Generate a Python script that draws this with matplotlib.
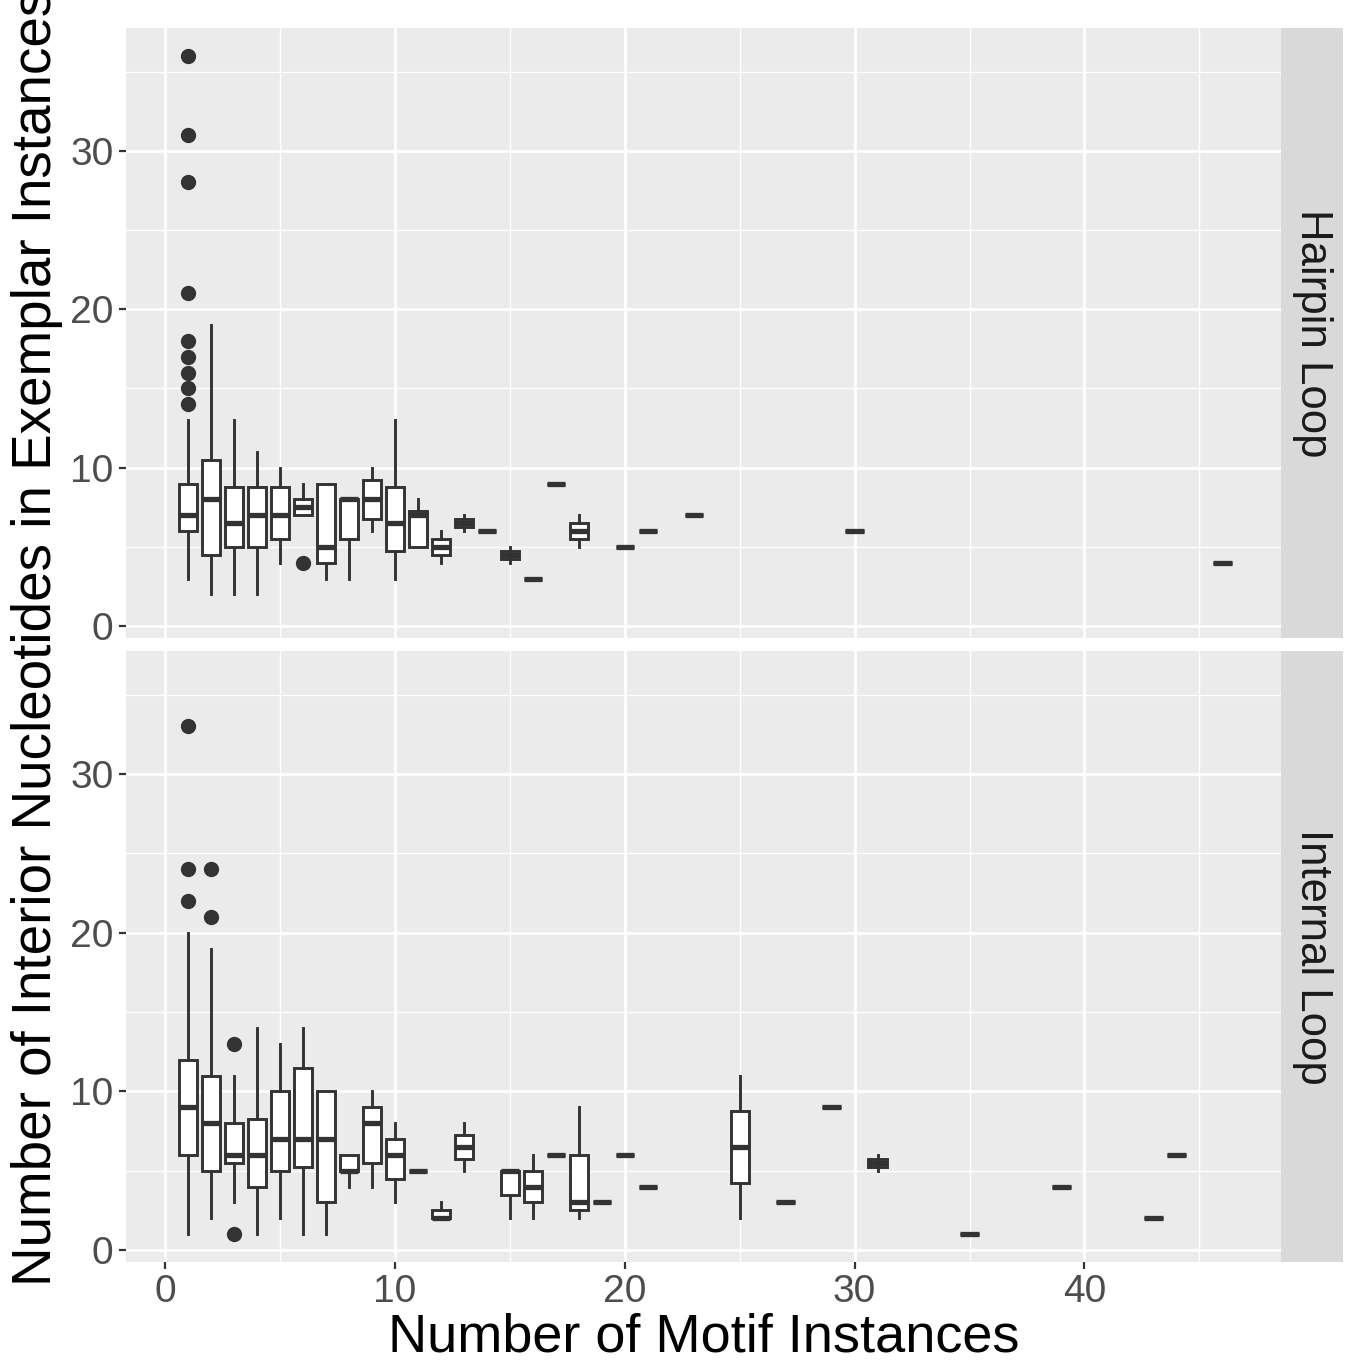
import numpy as np
import matplotlib
matplotlib.use("Agg")
import matplotlib.pyplot as plt

# Hairpin Loop: resumen de cada caja (x, minimo bigote, q1, mediana, q3, maximo bigote)
hp_x = [1, 2, 3, 4, 5, 6, 7, 8, 9, 10, 11, 12, 13, 14, 15, 16, 17, 18, 20, 21, 23, 30, 46]
hp_lo = [3, 2, 2, 2, 4, 7, 3, 3, 6, 3, 5, 4, 6, 6, 4, 3, 9, 5, 5, 6, 7, 6, 4]
hp_q1 = [6, 4.5, 5, 5, 5.5, 7, 4, 5.5, 6.75, 4.75, 5, 4.5, 6.25, 6, 4.25, 3, 9, 5.5, 5, 6, 7, 6, 4]
hp_med = [7, 8, 6.5, 7, 7, 7.5, 5, 8, 8, 6.5, 7, 5, 6.5, 6, 4.5, 3, 9, 6, 5, 6, 7, 6, 4]
hp_q3 = [9, 10.5, 8.75, 8.75, 8.75, 8, 9, 8, 9.25, 8.75, 7.25, 5.5, 6.75, 6, 4.75, 3, 9, 6.5, 5, 6, 7, 6, 4]
hp_hi = [13, 19, 13, 11, 10, 9, 9, 8, 10, 13, 8, 6, 7, 6, 5, 3, 9, 7, 5, 6, 7, 6, 4]
hp_out = {1: [14, 15, 16, 17, 18, 21, 28, 31, 36], 6: [4]}

# Internal Loop
il_x = [1, 2, 3, 4, 5, 6, 7, 8, 9, 10, 11, 12, 13, 15, 16, 17, 18, 19, 20, 21, 25, 27, 29, 31, 35, 39, 43, 44]
il_lo = [1, 2, 3, 1, 2, 1, 1, 4, 4, 3, 5, 2, 5, 2, 2, 6, 2, 3, 6, 4, 2, 3, 9, 5, 1, 4, 2, 6]
il_q1 = [6, 5, 5.5, 4, 5, 5.25, 3, 5, 5.5, 4.5, 5, 2, 5.75, 3.5, 3, 6, 2.5, 3, 6, 4, 4.25, 3, 9, 5.25, 1, 4, 2, 6]
il_med = [9, 8, 6, 6, 7, 7, 7, 5, 8, 6, 5, 2, 6.5, 5, 4, 6, 3, 3, 6, 4, 6.5, 3, 9, 5.5, 1, 4, 2, 6]
il_q3 = [12, 11, 8, 8.25, 10, 11.5, 10, 6, 9, 7, 5, 2.5, 7.25, 5, 5, 6, 6, 3, 6, 4, 8.75, 3, 9, 5.75, 1, 4, 2, 6]
il_hi = [20, 19, 11, 14, 13, 14, 10, 6, 10, 8, 5, 3, 8, 5, 6, 6, 9, 3, 6, 4, 11, 3, 9, 6, 1, 4, 2, 6]
il_out = {1: [22, 24, 33], 2: [21, 24], 3: [1, 13]}

paneles = ["Hairpin Loop", "Internal Loop"]
x_ticks = [0, 10, 20, 30, 40]
y_ticks = [0, 10, 20, 30]

fuente = "Liberation Sans"
plt.rcParams["font.family"] = [fuente, "DejaVu Sans"]

W, H = 1349, 1363
fig = plt.figure(figsize=(W / 100, H / 100), dpi=100)


def stats(xs, lo, q1, med, q3, hi, out):
    res = []
    for i, x in enumerate(xs):
        res.append(dict(med=med[i], q1=q1[i], q3=q3[i], whislo=lo[i], whishi=hi[i],
                        fliers=out.get(x, []), label=""))
    return res


def panel(rect, strip_rect, xs, st, titulo, mostrar_x):
    ax = fig.add_axes(rect)
    ax.set_facecolor("#EBEBEB")
    for s in ax.spines.values():
        s.set_visible(False)
    ax.set_xlim(-1.7, 48.55)
    ax.set_ylim(-0.75, 37.75)
    ax.set_xticks(x_ticks)
    ax.set_yticks(y_ticks)
    ax.set_xticks([5, 15, 25, 35, 45], minor=True)
    ax.set_yticks([5, 15, 25, 35], minor=True)
    ax.grid(which="major", color="white", lw=2.0)
    ax.grid(which="minor", color="white", lw=1.0)
    ax.set_axisbelow(True)
    ax.tick_params(which="minor", length=0)
    ax.tick_params(which="major", length=5, width=1.6, color="#333333",
                   labelsize=28, labelcolor="#4D4D4D", pad=4)
    if not mostrar_x:
        ax.tick_params(axis="x", length=0, labelbottom=False)
    ax.bxp(st, positions=xs, widths=0.8, patch_artist=True, showcaps=False,
           manage_ticks=False,
           boxprops=dict(facecolor="white", edgecolor="#333333", lw=2.1),
           whiskerprops=dict(color="#333333", lw=2.1),
           medianprops=dict(color="#333333", lw=3.8, solid_capstyle="butt"),
           flierprops=dict(marker="o", markerfacecolor="#333333",
                           markeredgecolor="#333333", markersize=10))
    sx = fig.add_axes(strip_rect)
    sx.set_facecolor("#D9D9D9")
    sx.set_xticks([])
    sx.set_yticks([])
    for s in sx.spines.values():
        s.set_visible(False)
    sx.text(0.5, 0.5, titulo, rotation=-90, ha="center", va="center",
            fontsize=31.5, color="#1A1A1A", transform=sx.transAxes)
    return ax


def fr(x0, y0, x1, y1):
    return [x0 / W, 1 - y1 / H, (x1 - x0) / W, (y1 - y0) / H]


panel(fr(126, 28, 1281, 638), fr(1281, 28, 1343, 638), hp_x,
      stats(hp_x, hp_lo, hp_q1, hp_med, hp_q3, hp_hi, hp_out), paneles[0], False)
panel(fr(126, 651, 1281, 1262), fr(1281, 651, 1343, 1262), il_x,
      stats(il_x, il_lo, il_q1, il_med, il_q3, il_hi, il_out), paneles[1], True)

fig.text(704 / W, 1 - 1337 / H, "Number of Motif Instances", ha="center", va="center",
         fontsize=39, color="black")
fig.text(37 / W, 1 - 637 / H, "Number of Interior Nucleotides in Exemplar Instances",
         ha="center", va="center", rotation=90, fontsize=39.4, color="black")

fig.savefig("out.png", dpi=100, facecolor="white")
